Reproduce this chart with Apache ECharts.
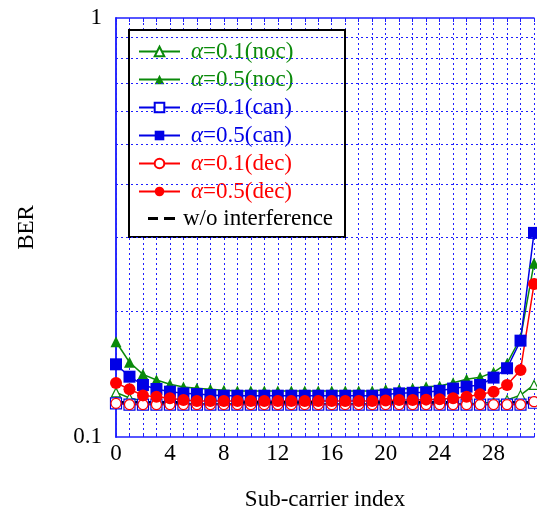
<!DOCTYPE html>
<html>
<head>
<meta charset="utf-8">
<script src="https://cdn.jsdelivr.net/npm/echarts@6/dist/echarts.min.js"></script>
<style>
  html, body { margin: 0; padding: 0; background: #fff; }
  #chart { width: 537px; height: 516px; }
</style>
</head>
<body>
<div id="chart"></div>
<script>
// sub-carrier index 0..31
const subCarrier = [0, 1, 2, 3, 4, 5, 6, 7, 8, 9, 10, 11, 12, 13, 14, 15,
  16, 17, 18, 19, 20, 21, 22, 23, 24, 25, 26, 27, 28, 29, 30, 31];

// BER values
const noc01 = [0.1278, 0.1239, 0.1219, 0.1208, 0.1200, 0.1200, 0.1200, 0.1200,
  0.1200, 0.1200, 0.1200, 0.1200, 0.1200, 0.1200, 0.1200, 0.1200,
  0.1200, 0.1200, 0.1200, 0.1200, 0.1200, 0.1200, 0.1200, 0.1200,
  0.1200, 0.1200, 0.1200, 0.1203, 0.1210, 0.1225, 0.1259, 0.1331];
const noc05 = [0.1688, 0.1508, 0.1411, 0.1368, 0.1336, 0.1316, 0.1307, 0.1300,
  0.1293, 0.1288, 0.1288, 0.1288, 0.1288, 0.1288, 0.1288, 0.1288,
  0.1288, 0.1288, 0.1288, 0.1288, 0.1298, 0.1300, 0.1307, 0.1318,
  0.1323, 0.1348, 0.1373, 0.1388, 0.1427, 0.1498, 0.1723, 0.2598];
const can01 = [0.1203, 0.1195, 0.1195, 0.1195, 0.1195, 0.1195, 0.1195, 0.1195,
  0.1195, 0.1195, 0.1195, 0.1195, 0.1195, 0.1195, 0.1195, 0.1195,
  0.1195, 0.1195, 0.1195, 0.1195, 0.1195, 0.1195, 0.1195, 0.1195,
  0.1195, 0.1195, 0.1195, 0.1195, 0.1195, 0.1195, 0.1195, 0.1207];
const can05 = [0.1491, 0.1393, 0.1331, 0.1302, 0.1283, 0.1271, 0.1266, 0.1259,
  0.1255, 0.1255, 0.1255, 0.1255, 0.1255, 0.1255, 0.1255, 0.1255,
  0.1255, 0.1255, 0.1255, 0.1255, 0.1263, 0.1271, 0.1275, 0.1278,
  0.1289, 0.1305, 0.1319, 0.1331, 0.1386, 0.1459, 0.1698, 0.3070];
const dec01 = [0.1203, 0.1195, 0.1195, 0.1195, 0.1195, 0.1195, 0.1195, 0.1195,
  0.1195, 0.1195, 0.1195, 0.1195, 0.1195, 0.1195, 0.1195, 0.1195,
  0.1195, 0.1195, 0.1195, 0.1195, 0.1195, 0.1195, 0.1195, 0.1195,
  0.1195, 0.1195, 0.1195, 0.1195, 0.1195, 0.1195, 0.1195, 0.1214];
const dec05 = [0.1346, 0.1300, 0.1257, 0.1248, 0.1237, 0.1225, 0.1219, 0.1219,
  0.1219, 0.1219, 0.1219, 0.1219, 0.1219, 0.1219, 0.1219, 0.1219,
  0.1219, 0.1219, 0.1219, 0.1219, 0.1222, 0.1225, 0.1225, 0.1228,
  0.1230, 0.1237, 0.1248, 0.1264, 0.1283, 0.1331, 0.1445, 0.2318];
const noInterference = [0.1210, 0.1210, 0.1210, 0.1210, 0.1210, 0.1210, 0.1210, 0.1210,
  0.1210, 0.1210, 0.1210, 0.1210, 0.1210, 0.1210, 0.1210, 0.1210,
  0.1210, 0.1210, 0.1210, 0.1210, 0.1210, 0.1210, 0.1210, 0.1210,
  0.1210, 0.1210, 0.1210, 0.1210, 0.1210, 0.1210, 0.1210, 0.1210];

const seriesNames = ['α=0.1(noc)', 'α=0.5(noc)', 'α=0.1(can)', 'α=0.5(can)', 'α=0.1(dec)', 'α=0.5(dec)'];
const refName = 'w/o interference';
const xTickLabels = [0, 4, 8, 12, 16, 20, 24, 28];
const yGridValues = [0.2, 0.3, 0.4, 0.5, 0.6, 0.7, 0.8, 0.9];

const GREEN = '#0b8a0b';
const BLUE = '#0000e6';
const RED = '#ff0000';
const GRID_BLUE = '#1f1fff';
const FONT = "'Liberation Serif', 'DejaVu Serif', serif";
const FS = 23;

const pairs = vals => subCarrier.map((x, i) => [x, vals[i]]);

function markerSeries(name, vals, color, symbol, size, hollow) {
  return {
    name: name,
    type: 'line',
    data: pairs(vals),
    symbol: symbol,
    symbolSize: size,
    showSymbol: true,
    lineStyle: { color: color, width: 1.5 },
    itemStyle: hollow
      ? { color: '#fff', borderColor: color, borderWidth: 1.2 }
      : { color: color, borderColor: color, borderWidth: 0 }
  };
}

const chart = echarts.init(document.getElementById('chart'), null, { renderer: 'canvas' });

const series = [
  markerSeries(seriesNames[0], noc01, GREEN, 'triangle', 9, true),
  markerSeries(seriesNames[1], noc05, GREEN, 'triangle', 11, false),
  markerSeries(seriesNames[2], can01, BLUE, 'rect', 11, true),
  markerSeries(seriesNames[3], can05, BLUE, 'rect', 12, false),
  markerSeries(seriesNames[4], dec01, RED, 'circle', 10, true),
  markerSeries(seriesNames[5], dec05, RED, 'circle', 12, false),
  {
    name: refName,
    type: 'line',
    data: pairs(noInterference),
    symbol: 'none',
    lineStyle: { color: '#000', width: 2.4, type: [9, 6] },
    itemStyle: { color: '#000' }
  }
];

// horizontal dotted grid lines of the log axis
series[0].markLine = {
  silent: true,
  symbol: ['none', 'none'],
  label: { show: false },
  animation: false,
  lineStyle: { color: GRID_BLUE, type: [2, 3], width: 1 },
  data: yGridValues.map(v => ({ yAxis: v }))
};

const legendColors = [GREEN, GREEN, BLUE, BLUE, RED, RED];

const option = {
  animation: false,
  backgroundColor: '#fff',
  textStyle: { fontFamily: FONT },
  grid: { left: 116, right: 3, top: 18, bottom: 79, containLabel: false },
  graphic: [{
    type: 'rect',
    z: 3,
    shape: { x: 129, y: 30, width: 216, height: 207 },
    style: { fill: '#fff', stroke: '#000', lineWidth: 2 }
  }],
  legend: [{
    z: 5,
    left: 138,
    top: 40,
    orient: 'vertical',
    padding: 0,
    itemGap: 5,
    itemWidth: 41,
    itemHeight: 12,
    data: seriesNames.map((n, i) => ({ name: n, textStyle: { color: legendColors[i] } })),
    formatter: name => '{a|α}' + name.slice(1),
    textStyle: {
      fontFamily: FONT,
      fontSize: FS,
      lineHeight: FS,
      padding: [0, 0, 0, 6],
      rich: { a: { fontStyle: 'italic', fontFamily: FONT, fontSize: FS, lineHeight: FS } }
    }
  }, {
    z: 5,
    left: 148,
    top: 207,
    padding: 0,
    itemWidth: 27,
    itemHeight: 3,
    data: [{
      name: refName,
      icon: 'path://M0,0H10V3H0Z M16,0H27V3H16Z',
      itemStyle: { color: '#000' },
      textStyle: { color: '#000' }
    }],
    textStyle: { fontFamily: FONT, fontSize: FS, lineHeight: FS, padding: [0, 0, 0, 3] }
  }],
  xAxis: [{
    type: 'value',
    min: 0,
    max: 31,
    interval: 1,
    name: 'Sub-carrier index',
    nameLocation: 'middle',
    nameGap: 51,
    nameTextStyle: { fontFamily: FONT, fontSize: FS, color: '#000' },
    axisLine: { show: true, lineStyle: { color: GRID_BLUE, width: 1.5 } },
    axisTick: { show: true, inside: true, length: 4, lineStyle: { color: GRID_BLUE } },
    axisLabel: {
      fontFamily: FONT, fontSize: FS, color: '#000', margin: 5,
      formatter: v => (xTickLabels.indexOf(v) >= 0 ? String(v) : '')
    },
    splitLine: { show: true, lineStyle: { color: GRID_BLUE, type: [2, 3], width: 1 } }
  }, {
    type: 'value',
    position: 'top',
    min: 0,
    max: 31,
    interval: 1,
    axisLine: { show: true, lineStyle: { color: GRID_BLUE, width: 1.5 } },
    axisTick: { show: true, inside: true, length: 4, lineStyle: { color: GRID_BLUE } },
    axisLabel: { show: false },
    splitLine: { show: false }
  }],
  yAxis: [{
    type: 'log',
    logBase: 10,
    min: 0.1,
    max: 1,
    name: 'BER',
    nameLocation: 'middle',
    nameGap: 78,
    nameRotate: 90,
    nameTextStyle: { fontFamily: FONT, fontSize: FS, color: '#000' },
    axisLine: { show: true, lineStyle: { color: GRID_BLUE, width: 1.5 } },
    axisTick: { show: false },
    axisLabel: {
      fontFamily: FONT, fontSize: FS, color: '#000', margin: 14,
      formatter: v => (Math.abs(v - 1) < 1e-9 ? '1' : '0.1')
    },
    splitLine: { show: false }
  }, {
    type: 'log',
    logBase: 10,
    min: 0.1,
    max: 1,
    position: 'right',
    axisLine: { show: true, lineStyle: { color: GRID_BLUE, width: 1.5 } },
    axisTick: { show: false },
    axisLabel: { show: false },
    splitLine: { show: false }
  }],
  series: series
};

chart.setOption(option);
</script>
</body>
</html>
